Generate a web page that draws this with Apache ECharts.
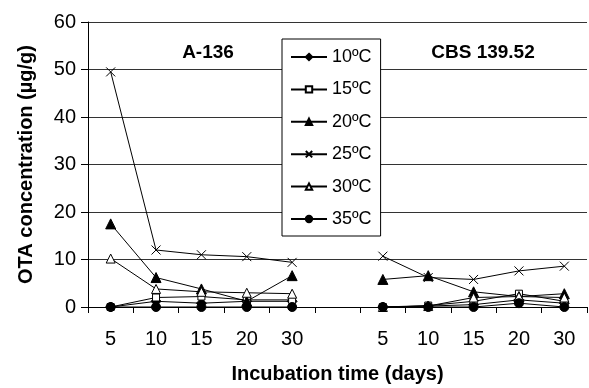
<!DOCTYPE html>
<html>
<head>
<meta charset="utf-8">
<script src="https://cdn.jsdelivr.net/npm/echarts@6/dist/echarts.min.js"></script>
<style>
  html, body { margin: 0; padding: 0; background: #fff; }
  #chart { width: 589px; height: 388px; }
</style>
</head>
<body>
<div id="chart"></div>
<script>
// Incubation days per strain panel; an empty slot separates the two panels
var days = ['5', '10', '15', '20', '30'];
var categories = days.concat(['']).concat(days);

var strains = ['A-136', 'CBS 139.52'];
var temperatures = ['10ºC', '15ºC', '20ºC', '25ºC', '30ºC', '35ºC'];

// OTA concentration (µg/g), strain A-136
var a136_10 = [0, 1.2, 0.8, 1.2, 1.2];
var a136_15 = [0, 2.0, 2.2, 1.5, 1.5];
var a136_20 = [17.5, 6.2, 3.8, 1.2, 6.6];
var a136_25 = [49.5, 12.0, 11.0, 10.6, 9.4];
var a136_30 = [10.2, 3.8, 3.2, 3.0, 2.8];
var a136_35 = [0, 0, 0, 0, 0];

// OTA concentration (µg/g), strain CBS 139.52
var cbs_10 = [0, 0.2, 0.5, 1.5, 0.8];
var cbs_15 = [0, 0.3, 1.2, 2.8, 1.2];
var cbs_20 = [5.8, 6.6, 3.2, 2.2, 2.8];
var cbs_25 = [10.7, 6.2, 5.8, 7.6, 8.6];
var cbs_30 = [0, 0.2, 2.0, 2.2, 2.0];
var cbs_35 = [0, 0, 0, 0.8, 0];

var yTicks = [0, 10, 20, 30, 40, 50, 60];

var FONT = 'Liberation Sans, Arial, sans-serif';
var crossPath = 'path://M0,0L10,10M10,0L0,10';

var markers = [
  { symbol: 'diamond', size: 10, fill: '#000' },
  { symbol: 'rect', size: 7, fill: '#fff' },
  { symbol: 'triangle', size: 10, fill: '#000' },
  { symbol: crossPath, size: 9, fill: 'none' },
  { symbol: 'triangle', size: 9, fill: '#fff' },
  { symbol: 'circle', size: 9, fill: '#000' }
];

var panelA = [a136_10, a136_15, a136_20, a136_25, a136_30, a136_35];
var panelB = [cbs_10, cbs_15, cbs_20, cbs_25, cbs_30, cbs_35];

var series = temperatures.map(function (name, i) {
  var m = markers[i];
  return {
    name: name,
    type: 'line',
    data: panelA[i].concat([null]).concat(panelB[i]),
    connectNulls: false,
    symbol: m.symbol,
    symbolSize: m.size,
    showAllSymbol: true,
    lineStyle: { color: '#000', width: 1 },
    itemStyle: {
      color: m.fill === 'none' ? 'rgba(0,0,0,0)' : m.fill,
      borderColor: '#000',
      borderWidth: 1
    },
    emphasis: { disabled: true },
    animation: false,
    z: 2 + i
  };
});

var chart = echarts.init(document.getElementById('chart'), null, { renderer: 'canvas' });
chart.setOption({
  backgroundColor: '#fff',
  animation: false,
  textStyle: { fontFamily: FONT, color: '#000' },
  title: [
    { text: strains[0], left: 203, top: 38, textAlign: 'center',
      textStyle: { fontFamily: FONT, fontSize: 19, fontWeight: 'bold', color: '#000' } },
    { text: strains[1], left: 478, top: 38, textAlign: 'center',
      textStyle: { fontFamily: FONT, fontSize: 19, fontWeight: 'bold', color: '#000' } }
  ],
  legend: {
    orient: 'vertical',
    left: 282,
    top: 39,
    padding: [9, 9, 8, 8],
    itemWidth: 36,
    itemHeight: 8,
    itemGap: 14.4,
    itemTextGap: 9,
    backgroundColor: '#fff',
    borderColor: '#000',
    borderWidth: 1,
    textStyle: { fontFamily: FONT, fontSize: 18, lineHeight: 18, color: '#000' },
    data: temperatures
  },
  grid: { left: 88, right: 2, top: 22, bottom: 81, outerBoundsMode: 'none', containLabel: false },
  xAxis: {
    type: 'category',
    data: categories,
    boundaryGap: true,
    name: 'Incubation time (days)',
    nameLocation: 'middle',
    nameGap: 57,
    nameTextStyle: { fontFamily: FONT, fontSize: 20, fontWeight: 'bold', color: '#000' },
    axisLine: { lineStyle: { color: '#000', width: 1 } },
    axisTick: { show: true, length: 6, interval: 0, lineStyle: { color: '#000' } },
    axisLabel: { interval: 0, margin: 22, fontFamily: FONT, fontSize: 20, color: '#000' },
    splitLine: { show: false }
  },
  yAxis: {
    type: 'value',
    min: yTicks[0],
    max: yTicks[yTicks.length - 1],
    interval: 10,
    name: 'OTA concentration (µg/g)',
    nameLocation: 'middle',
    nameGap: 52,
    nameTextStyle: { fontFamily: FONT, fontSize: 20, fontWeight: 'bold', color: '#000' },
    axisLine: { show: true, lineStyle: { color: '#000', width: 1 } },
    axisTick: { show: true, length: 7, lineStyle: { color: '#000' } },
    axisLabel: { margin: 12, fontFamily: FONT, fontSize: 20, color: '#000' },
    splitLine: { show: true, lineStyle: { color: '#333', width: 1 } }
  },
  series: series
});
</script>
</body>
</html>
